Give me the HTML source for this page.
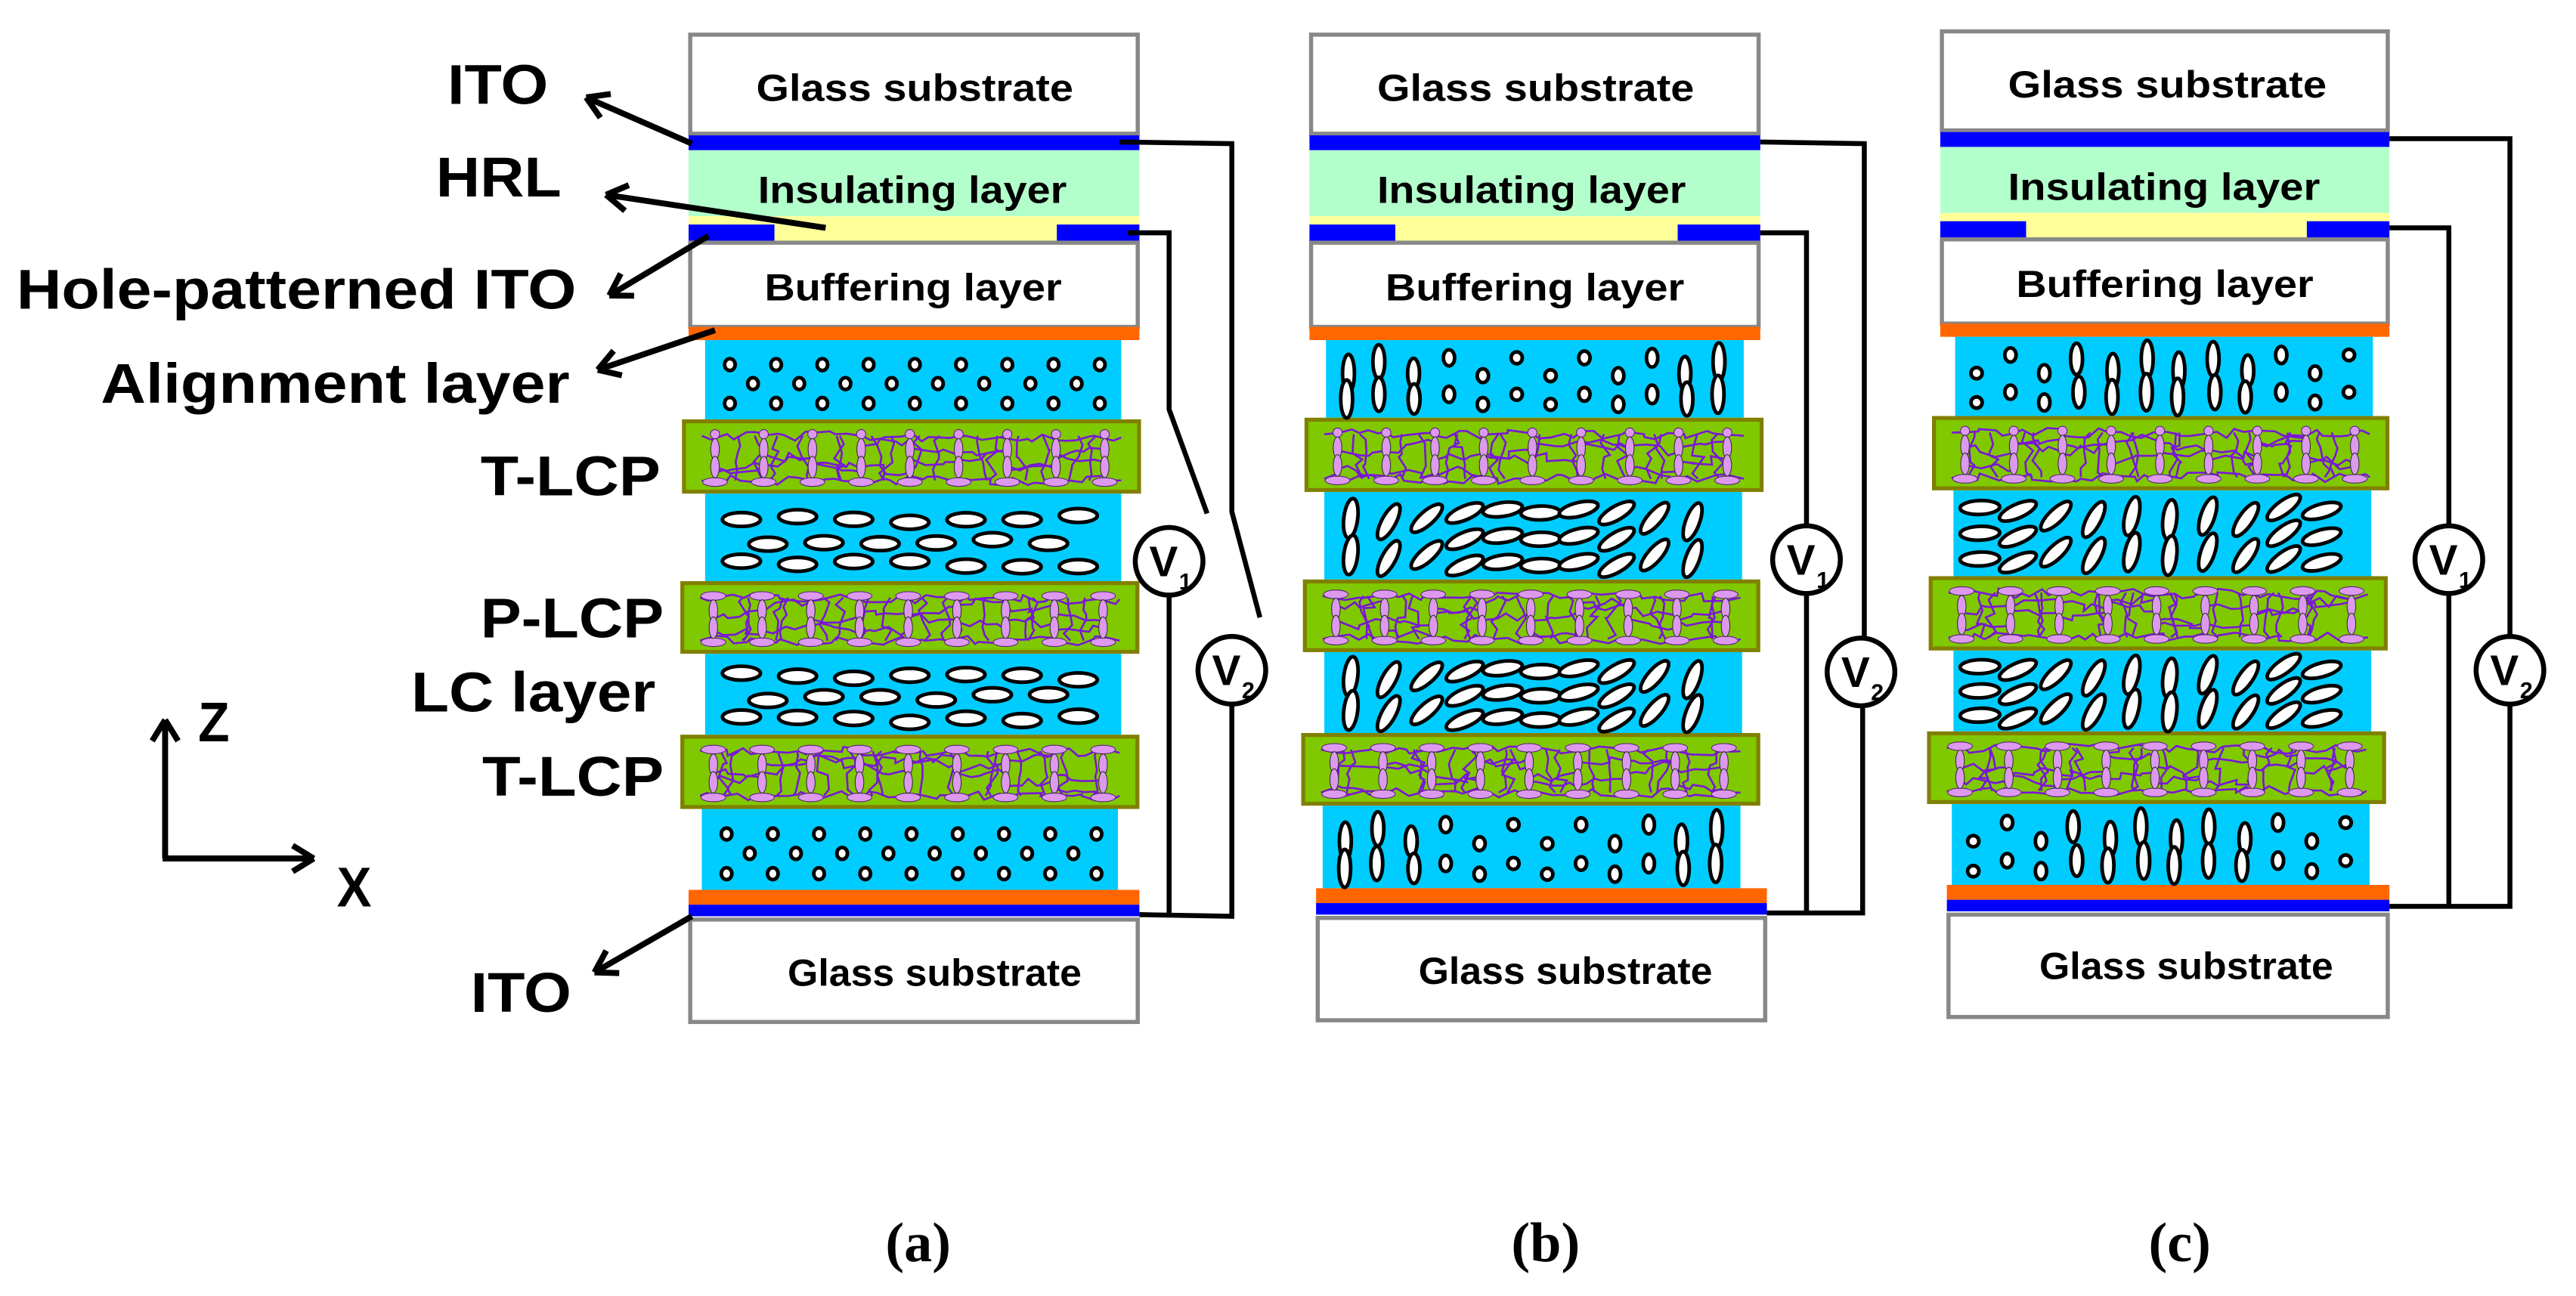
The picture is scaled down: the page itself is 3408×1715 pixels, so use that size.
<!DOCTYPE html>
<html><head><meta charset="utf-8">
<style>html,body{margin:0;padding:0;background:#fff;overflow:hidden}svg{display:block}</style>
</head><body>
<svg id="s" xmlns="http://www.w3.org/2000/svg" width="3408" height="1715" viewBox="0 0 1560 785" preserveAspectRatio="none">
<rect x="0" y="0" width="1560" height="785" fill="#fff"/>
<g id="layers"></g>
<g id="mol"></g>
<g id="txt" font-family="'Liberation Sans', Arial, sans-serif" font-weight="bold" fill="#000">
 <text x="458" y="61" font-size="23" textLength="192" lengthAdjust="spacingAndGlyphs">Glass substrate</text>
 <text x="459" y="123" font-size="23" textLength="187" lengthAdjust="spacingAndGlyphs">Insulating layer</text>
 <text x="463" y="182" font-size="23" textLength="180" lengthAdjust="spacingAndGlyphs">Buffering layer</text>
 <text x="477" y="597" font-size="23" textLength="178" lengthAdjust="spacingAndGlyphs">Glass substrate</text>
 <text x="834" y="61" font-size="23" textLength="192" lengthAdjust="spacingAndGlyphs">Glass substrate</text>
 <text x="834" y="123" font-size="23" textLength="187" lengthAdjust="spacingAndGlyphs">Insulating layer</text>
 <text x="839" y="182" font-size="23" textLength="181" lengthAdjust="spacingAndGlyphs">Buffering layer</text>
 <text x="859" y="596" font-size="23" textLength="178" lengthAdjust="spacingAndGlyphs">Glass substrate</text>
 <text x="1216" y="59" font-size="23" textLength="193" lengthAdjust="spacingAndGlyphs">Glass substrate</text>
 <text x="1216" y="121" font-size="23" textLength="189" lengthAdjust="spacingAndGlyphs">Insulating layer</text>
 <text x="1221" y="180" font-size="23" textLength="180" lengthAdjust="spacingAndGlyphs">Buffering layer</text>
 <text x="1235" y="593" font-size="23" textLength="178" lengthAdjust="spacingAndGlyphs">Glass substrate</text>
</g>
<g font-family="'Liberation Sans Narrow','Liberation Sans', Arial, sans-serif" font-weight="bold" fill="#000" font-size="34">
 <text x="271" y="63" textLength="61" lengthAdjust="spacingAndGlyphs">ITO</text>
 <text x="264" y="119" textLength="76" lengthAdjust="spacingAndGlyphs">HRL</text>
 <text x="10" y="187" textLength="339" lengthAdjust="spacingAndGlyphs">Hole-patterned ITO</text>
 <text x="61" y="244" textLength="284" lengthAdjust="spacingAndGlyphs">Alignment layer</text>
 <text x="291" y="300" textLength="109" lengthAdjust="spacingAndGlyphs">T-LCP</text>
 <text x="291" y="386" textLength="111" lengthAdjust="spacingAndGlyphs">P-LCP</text>
 <text x="249" y="431" textLength="148" lengthAdjust="spacingAndGlyphs">LC layer</text>
 <text x="292" y="482" textLength="110" lengthAdjust="spacingAndGlyphs">T-LCP</text>
 <text x="285" y="613" textLength="61" lengthAdjust="spacingAndGlyphs">ITO</text>
 <text x="120" y="449" textLength="19" lengthAdjust="spacingAndGlyphs">Z</text>
 <text x="204" y="549" textLength="21" lengthAdjust="spacingAndGlyphs">X</text>
</g>
<g font-family="'Liberation Serif', 'Times New Roman', serif" font-weight="bold" fill="#000" font-size="34" text-anchor="middle">
 <text x="556" y="764">(a)</text>
 <text x="936" y="764">(b)</text>
 <text x="1320" y="764">(c)</text>
</g>
<g id="wires" stroke="#000" stroke-width="3" fill="none"></g>
</svg>
<script>
(function(){
var NS="http://www.w3.org/2000/svg";
function el(p,t,a){var e=document.createElementNS(NS,t);for(var k in a)e.setAttribute(k,a[k]);p.appendChild(e);return e;}
var L=document.getElementById('layers'),M=document.getElementById('mol'),W=document.getElementById('wires');
var seed=12345;function rnd(){seed=(seed*1103515245+12345)&0x7fffffff;return seed/0x7fffffff;}
function rect(x0,y0,x1,y1,fill,stroke,sw){var a={x:x0,y:y0,width:x1-x0,height:y1-y0,fill:fill};if(stroke){a.stroke=stroke;a['stroke-width']=sw||1.5;}return el(L,'rect',a);}
function ell(cx,cy,rx,ry,ang,fill,stroke,sw){var a={cx:cx,cy:cy,rx:rx,ry:ry,fill:fill,stroke:stroke,'stroke-width':sw};if(ang)a.transform='rotate('+ang+' '+cx+' '+cy+')';return el(M,'ellipse',a);}
var SW=2.2;
function lcp(x0,y0,x1,y1,mode){
 rect(x0+1.2,y0+1.2,x1-1.2,y1-1.2,'#80c800','#808000',2.4);
 var g=el(M,'g',{});
 var ix0=x0+12,ix1=x1-12,ytop=y0+8,ybot=y1-8;
 var cols=[];for(var x=ix0+8;x<=ix1-4;x+=29.5)cols.push(x);
 var pl=el(g,'g',{stroke:'#7a16d8','stroke-width':1.2,fill:'none'});
 function walk(xa,ya,xb,yb,n){var d='M'+xa.toFixed(1)+' '+ya.toFixed(1);for(var i=1;i<=n;i++){var t=i/n;var x=xa+(xb-xa)*t+(i<n?(rnd()-0.5)*8:0);var y=ya+(yb-ya)*t+(i<n?(rnd()-0.5)*6:0);d+=' L'+x.toFixed(1)+' '+y.toFixed(1);}el(pl,'path',{d:d});}
 walk(ix0,ytop+2,ix1,ytop+3,40);walk(ix0,ybot,ix1,ybot,40);
 for(var i=0;i<cols.length-1;i++){
  var a=cols[i],b=cols[i+1];
  for(var k=0;k<2;k++){var xs=a+4+rnd()*(b-a-8);walk(xs,ytop+2,xs+(rnd()-0.5)*12,ybot,5);}
  for(var k=0;k<2;k++){var ya=ytop+6+rnd()*(ybot-ytop-10);walk(a,ya,b,ya+(rnd()-0.5)*12,5);}
 }
 for(var i=0;i<cols.length;i++){
  var cx=cols[i];
  el(g,'line',{x1:cx,y1:ytop,x2:cx,y2:ybot,stroke:'#7a16d8','stroke-width':1});
  if(mode=='bot'){ell(cx,ytop+1,2.8,2.8,0,'#dd99ee','#5a2080',0.5);}
  else ell(cx,ytop+1,7.5,2.6,0,'#dd99ee','#5a2080',0.5);
  ell(cx,ybot+1,7.5,2.6,0,'#dd99ee','#5a2080',0.5);
  var h=(ybot-ytop);
  ell(cx,ytop+h*0.35,2.6,6.5,0,'#dd99ee','#333',0.5);
  ell(cx,ytop+h*0.72,2.6,6.5,0,'#dd99ee','#333',0.5);
 }
}
function dotsA(x0,y0,x1,y1){rect(x0,y0,x1,y1,'#00ccff');var h=y1-y0;var rows=[0.33,0.57,0.82];for(var r=0;r<3;r++){var off=(r==1)?14:0;for(var x=x0+15+off;x<x1-4;x+=28)ell(x,y0+h*rows[r]-1,3.2,3.6,0,'#fff','#000',SW);}}
function ellA(x0,y0,x1,y1){rect(x0,y0,x1,y1,'#00ccff');var h=y1-y0;var rows=[0.3,0.56,0.82];for(var r=0;r<3;r++){var off=(r==1)?38:22;for(var x=x0+off;x<x1-10;x+=34)ell(x,y0+h*rows[r]-1+(rnd()-0.5)*5,11.5,4.2,0,'#fff','#000',SW);}}
function uval(x,cx,hw,inv){var u=Math.min(1,Math.abs(x-cx)/hw);u=Math.pow(u,1.3);return inv?1-u:u;}
function endOn(x0,y0,x1,y1,inv){rect(x0,y0,x1,y1,'#00ccff');var cx=(x0+x1)/2,hw=(x1-x0)/2-14;var h=y1-y0;
 for(var x=x0+13,j=0;x<x1-6;x+=20.5,j++){var u=uval(x,cx,hw,inv);
  if(u>0.55){var ys=(j%2)?[0.3,0.72]:[0.45,0.78];ys.forEach(function(f){var ry=6+u*5.5;ell(x+(rnd()-0.5)*3,y0+h*f-1,3.6,ry,0,'#fff','#000',SW);});}
  else {var ys=(j%2)?[0.25,0.72]:[0.48,0.85];ys.forEach(function(f){var ry=3.4+u*4;ell(x,y0+h*f-1,3.4,ry,0,'#fff','#000',SW);});}
 }}
function tilt(x0,y0,x1,y1,inv){rect(x0,y0,x1,y1,'#00ccff');var cx=(x0+x1)/2,hw=(x1-x0)/2-14;var h=y1-y0;
 for(var x=x0+16,j=0;x<x1-8;x+=23,j++){var u=uval(x,cx,hw,inv);var ang=-u*85;
  var ys=(u<0.45)?[0.2,0.5,0.8]:[0.3,0.72];if(j%2)ys=ys.map(function(f){return f+0.04;});
  ys.forEach(function(f){ell(x,y0+h*f,12,4.2,ang,'#fff','#000',SW);});}}
function stack(P){
 rect(P.gx0+1,P.g1+1,P.gx1-1,P.g2-1,'#fff','#888',2.5);
 rect(P.gx0,P.g2,P.gx1,P.g2+9,'#0000ff');
 rect(P.gx0,P.g2+9,P.gx1,P.g2+49,'#b3ffcc');
 rect(P.gx0,P.g2+49,P.gx1,P.g2+64,'#ffff99');
 rect(P.gx0,P.g2+54,P.gx0+52,P.g2+64,'#0000ff');
 rect(P.gx1-50,P.g2+54,P.gx1,P.g2+64,'#0000ff');
 rect(P.gx0+1,P.g2+65,P.gx1-1,P.g2+116,'#fff','#888',2.5);
 rect(P.gx0,P.g2+116,P.gx1,P.g2+124,'#ff6600');
}
function bottom(P,y){rect(P.bx0,y,P.bx1,y+9,'#ff6600');rect(P.bx0,y+9,P.bx1,y+16,'#0000ff');rect(P.bx0+1,y+18,P.bx1-1,y+80,'#fff','#888',2.5);}
var panels=[
 {gx0:417,gx1:690,g1:20,g2:82,lx0:427,lx1:679,y:[206,254,299,352,396,445,490,539],lp:[[413,691],[412,690],[412,690]],bx0:417,bx1:690,by:539,type:'a'},
 {gx0:793,gx1:1066,g1:20,g2:82,lx0:803,lx1:1056,y:[206,253,298,351,395,444,488,538],lp:[[790,1068],[789,1066],[788,1066]],bx0:797,bx1:1070,by:538,type:'b'},
 {gx0:1175,gx1:1447,g1:18,g2:80,lx0:1184,lx1:1437,y:[204,252,297,349,394,443,487,536],lp:[[1170,1447],[1168,1446],[1167,1445]],bx0:1179,bx1:1447,by:536,type:'c'}
];
panels.forEach(function(P){
 stack(P);
 var Y=P.y;
 var segs=[[Y[0],Y[1]],[Y[2],Y[3]],[Y[4],Y[5]],[Y[6],Y[7]]];
 if(P.type=='a'){dotsA(P.lx0,segs[0][0],P.lx1,segs[0][1]);ellA(P.lx0,segs[1][0],P.lx1,segs[1][1]);ellA(P.lx0,segs[2][0],P.lx1,segs[2][1]);dotsA(P.lx0-2,segs[3][0],P.lx1-2,segs[3][1]);}
 else{var inv=P.type=='c';endOn(P.lx0,segs[0][0],P.lx1,segs[0][1],inv);tilt(P.lx0-1,segs[1][0],P.lx1-1,segs[1][1],inv);tilt(P.lx0-1,segs[2][0],P.lx1-1,segs[2][1],inv);endOn(P.lx0-2,segs[3][0],P.lx1-2,segs[3][1],inv);}
 lcp(P.lp[0][0],Y[1],P.lp[0][1],Y[2],'bot');
 lcp(P.lp[1][0],Y[3],P.lp[1][1],Y[4],'both');
 lcp(P.lp[2][0],Y[5],P.lp[2][1],Y[6],'both');
 bottom(P,P.by);
});
function pl(pts,w){el(W,'polyline',{points:pts,'stroke-width':w||3,'stroke-linejoin':'miter'});}
function meter(cx,cy,n){el(W,'circle',{cx:cx,cy:cy,r:20.5,fill:'#fff','stroke-width':3});
 var t=el(W,'text',{x:cx-12,y:cy+9,'font-family':"'Liberation Sans',Arial,sans-serif",'font-weight':'bold','font-size':26,fill:'#000',stroke:'none'});t.textContent='V';
 var s=el(W,'text',{x:cx+6,y:cy+17,'font-family':"'Liberation Sans',Arial,sans-serif",'font-weight':'bold','font-size':14,fill:'#000',stroke:'none'});s.textContent=n;}
pl('678,86 746,87 746,310 763,374');
pl('683,141 708,141 708,248 731,311');
pl('708,361 708,553');pl('746,426 746,555 690,554');
meter(708,340,'1');meter(746,406,'2');
pl('1066,86 1129,87 1129,386');pl('1066,141 1094,141 1094,318');
pl('1094,360 1094,552');pl('1128,428 1128,553 1070,553');
meter(1094,339,'1');meter(1127,407,'2');
pl('1447,84 1520,84 1520,385');pl('1447,138 1483,138 1483,318');
pl('1483,360 1483,548');pl('1520,427 1520,549 1447,549');
meter(1483,339,'1');meter(1520,406,'2');
function arrow(x1,y1,x2,y2){var g=el(W,'g',{'stroke-width':3.6,'stroke-linecap':'butt'});
 el(g,'line',{x1:x1,y1:y1,x2:x2,y2:y2});var a=Math.atan2(y1-y2,x1-x2);var l=15;
 [0.55,-0.55].forEach(function(d){el(g,'line',{x1:x2,y1:y2,x2:x2+l*Math.cos(a+d),y2:y2+l*Math.sin(a+d)});});}
arrow(419,87,355,59);arrow(500,138,367,118);arrow(429,143,369,179);arrow(433,200,362,224);arrow(419,555,360,589);
arrow(100,520,100,436);
el(W,'line',{x1:98.5,y1:520,x2:189,y2:520,'stroke-width':3.6});
arrow(100,520,190,520);
})();
</script>
</body></html>
